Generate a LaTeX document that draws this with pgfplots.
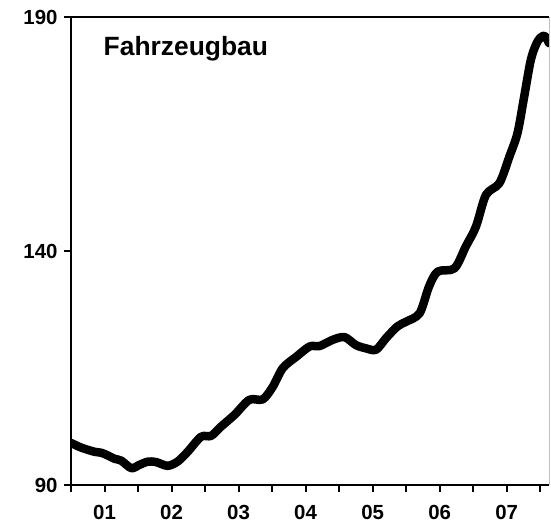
\documentclass[border=0pt]{standalone}
\usepackage{pgfplots}
\pgfplotsset{compat=1.18}
\usepackage{fontspec}
\setmainfont{Liberation Sans}
\begin{document}
\begin{tikzpicture}
\begin{axis}[
  width=478bp, height=468bp, scale only axis,
  xmin=2001, xmax=2008.13, ymin=90, ymax=190,
  axis lines=left,
  axis line style={-, line width=2.6bp},
  clip mode=individual,
  tick align=outside,
  major tick length=7bp,
  every tick/.style={black, line width=2bp},
  xtick={2001,2001.5,...,2008},
  xticklabels={,01,,02,,03,,04,,05,,06,,07,},
  ytick={90,140,190},
  /pgf/number format/assume math mode=true,
  tick label style={font=\fontsize{20.5}{24}\selectfont\bfseries},
  xticklabel style={yshift=-10bp},
  yticklabel style={xshift=-3bp},
]
\addplot[black, line width=8.5bp, smooth, line join=round, line cap=round] coordinates {
(2001.00,99.0)
(2001.15,98.0)
(2001.35,97.1)
(2001.45,96.9)
(2001.55,96.3)
(2001.65,95.6)
(2001.75,95.2)
(2001.90,93.6)
(2002.02,94.3)
(2002.15,95.0)
(2002.27,94.9)
(2002.44,94.1)
(2002.59,95.0)
(2002.74,97.1)
(2002.94,100.3)
(2003.09,100.5)
(2003.24,102.5)
(2003.44,105.0)
(2003.66,108.2)
(2003.86,108.3)
(2004.01,111.0)
(2004.16,115.0)
(2004.36,117.4)
(2004.56,119.6)
(2004.71,119.7)
(2004.90,121.0)
(2005.08,121.6)
(2005.25,119.9)
(2005.40,119.2)
(2005.55,118.9)
(2005.70,121.4)
(2005.87,123.9)
(2006.00,124.9)
(2006.20,126.7)
(2006.34,132.4)
(2006.47,135.6)
(2006.72,136.3)
(2006.89,141.0)
(2007.04,145.2)
(2007.19,152.0)
(2007.39,154.5)
(2007.54,160.2)
(2007.66,165.2)
(2007.76,173.0)
(2007.86,180.9)
(2007.96,184.8)
(2008.06,186.0)
(2008.13,184.4)
};
\node[anchor=base west, inner sep=0, font=\fontsize{26.5}{30}\selectfont\bfseries] at (rel axis cs:0.068,0.9173) {Fahrzeugbau};
\coordinate (bl) at (rel axis cs:0,0);
\coordinate (tl) at (rel axis cs:0,1);
\coordinate (tr) at (rel axis cs:1,1);
\coordinate (br) at (rel axis cs:1,0);
\end{axis}
\draw[line width=2.6bp] (tl) -- (tr);
\draw[line width=0.8bp, black!25] (br) -- (tr);
\path (bl) ++(-71bp,-43bp) (tr) ++(2bp,17bp);
\end{tikzpicture}
\end{document}
